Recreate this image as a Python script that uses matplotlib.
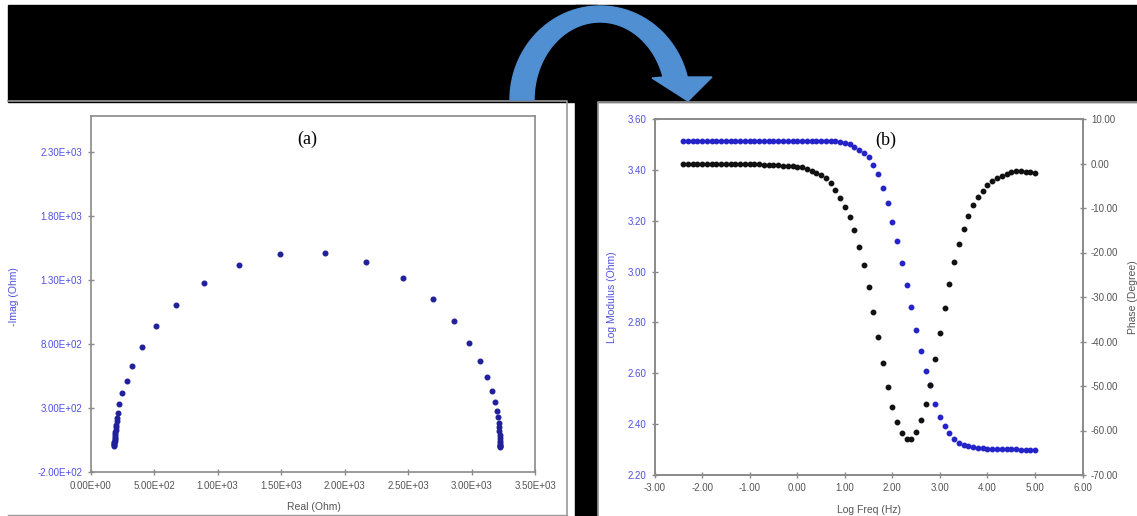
import numpy as np
from matplotlib import pyplot as plt
from matplotlib.patches import Rectangle, Polygon

plt.rcParams['font.family'] = ['Liberation Sans', 'DejaVu Sans']

# (a) Nyquist plot
z_real = [186, 187, 187, 188, 188, 189, 189, 190, 191, 192, 194, 196, 199, 203, 207, 211,
          218, 226, 250, 283, 329, 408, 515, 676, 891, 1168, 1491, 1843,
          2167, 2461, 2694, 2863, 2982, 3066, 3122, 3159, 3180, 3197, 3206, 3212, 3215,
          3218, 3220, 3221, 3222, 3223, 3224, 3224, 3225, 3225]
z_imag = [5, 12, 20, 28, 37, 46, 56, 67, 80, 95, 112, 130, 150, 172, 196, 222,
          264, 332, 415, 513, 632, 778, 938, 1107, 1275, 1413, 1501, 1506,
          1441, 1312, 1151, 982, 811, 666, 542, 433, 350, 280, 228, 186, 150,
          119, 90, 64, 44, 26, 14, 8, 4, 1]
a_xticks = [0, 500, 1000, 1500, 2000, 2500, 3000, 3500]
a_xlabels = ['0.00E+00', '5.00E+02', '1.00E+03', '1.50E+03', '2.00E+03', '2.50E+03', '3.00E+03', '3.50E+03']
a_yticks = [-200, 300, 800, 1300, 1800, 2300]
a_ylabels = ['-2.00E+02', '3.00E+02', '8.00E+02', '1.30E+03', '1.80E+03', '2.30E+03']

# (b) Bode plot
log_freq = [-2.4, -2.3, -2.2, -2.1, -2.0, -1.9, -1.8, -1.7, -1.6, -1.5,
            -1.4, -1.3, -1.2, -1.1, -1.0, -0.9, -0.8, -0.7, -0.6, -0.5,
            -0.4, -0.3, -0.2, -0.1, 0.0, 0.1, 0.2, 0.3, 0.4, 0.5,
            0.6, 0.7, 0.8, 0.9, 1.0, 1.1, 1.2, 1.3, 1.4, 1.5,
            1.6, 1.7, 1.8, 1.9, 2.0, 2.1, 2.2, 2.3, 2.4, 2.5,
            2.6, 2.7, 2.8, 2.9, 3.0, 3.1, 3.2, 3.3, 3.4, 3.5,
            3.6, 3.7, 3.8, 3.9, 4.0, 4.1, 4.2, 4.3, 4.4, 4.5,
            4.6, 4.7, 4.8, 4.9, 5.0]
log_modulus = [3.512] * 33 + [
    3.510, 3.506, 3.500, 3.491, 3.480, 3.468, 3.450,
    3.420, 3.382, 3.329, 3.270, 3.196, 3.119, 3.035, 2.947, 2.859, 2.771,
    2.686, 2.609, 2.555, 2.479, 2.429, 2.392, 2.364, 2.343, 2.327, 2.318,
    2.313, 2.309, 2.307, 2.305, 2.304, 2.303, 2.303, 2.302, 2.302, 2.301,
    2.301, 2.300, 2.300, 2.299, 2.298]
phase = [0.0, 0.0, 0.0, 0.0, 0.0, 0.0, 0.0, 0.0, 0.0, 0.0,
         -0.05, -0.05, -0.1, -0.1, -0.15, -0.2, -0.2, -0.25, -0.3, -0.35,
         -0.4, -0.45, -0.5, -0.6, -0.7, -0.85, -1.2, -1.6, -2.1, -2.6,
         -3.3, -4.45, -6.0, -7.7, -9.8, -12.1, -14.9, -18.7, -22.8, -27.7,
         -33.4, -39.1, -44.8, -50.2, -54.7, -58.2, -60.6, -61.8, -61.8, -60.3,
         -57.6, -54.0, -49.8, -43.9, -38.2, -32.5, -27.1, -22.2, -18.2, -14.7,
         -11.8, -9.4, -7.5, -6.1, -4.8, -3.9, -3.3, -2.7, -2.3, -1.9,
         -1.75, -1.75, -1.8, -2.0, -2.2]
b_xticks = [-3, -2, -1, 0, 1, 2, 3, 4, 5, 6]
b_xlabels = ['-3.00', '-2.00', '-1.00', '0.00', '1.00', '2.00', '3.00', '4.00', '5.00', '6.00']
b_yticks = [2.2, 2.4, 2.6, 2.8, 3.0, 3.2, 3.4, 3.6]
b_ylabels = ['2.20', '2.40', '2.60', '2.80', '3.00', '3.20', '3.40', '3.60']
b_y2ticks = [-70, -60, -50, -40, -30, -20, -10, 0, 10]
b_y2labels = ['-70.00', '-60.00', '-50.00', '-40.00', '-30.00', '-20.00', '-10.00', '0.00', '10.00']

W, H = 1137, 516
blue_txt = '#5050e0'
gray_txt = '#555555'
spine_col = '#8a8a8a'
fs = 7

fig = plt.figure(figsize=(W / 100, H / 100), dpi=100)

# background: black band, white panels, curved arrow (pixel coords)
bg = fig.add_axes([0, 0, 1, 1])
bg.set_xlim(0, W)
bg.set_ylim(H, 0)
bg.axis('off')
bg.add_patch(Rectangle((8, 5), W - 8, 97, color='black'))
bg.add_patch(Rectangle((575, 5), 22, H, color='black'))
bg.plot([8, 567, 567], [101, 101, 515], color='#9a9a9a', lw=1.2)
bg.plot([8, 567], [515, 515], color='#9a9a9a', lw=1.0)
bg.plot([598, 598, W], [H, 102, 102], color='#9a9a9a', lw=1.2)

cx, cy = 600, 100
t_out = np.radians(np.linspace(180, 15, 60))
t_in = np.radians(np.linspace(17, 180, 60))
outer = np.c_[cx + 90 * np.cos(t_out), cy - 94 * np.sin(t_out)]
inner = np.c_[cx + 66 * np.cos(t_in), cy - 78 * np.sin(t_in)]
head = np.array([[712, 77], [688, 101], [652, 78]])
arrow = np.vstack([outer, [[687, 77]], head, [[664, 77]], inner])
bg.add_patch(Polygon(arrow, closed=True, color='#4f8fd2', zorder=3))


def style_axes(ax):
    for s in ax.spines.values():
        s.set_color(spine_col)
        s.set_linewidth(1.2)
    ax.tick_params(direction='inout', length=5, width=1, color=spine_col, labelsize=fs)


# (a)
ax1 = fig.add_axes([90.6 / W, (H - 472.3) / H, 444.7 / W, 356 / H])
ax1.plot(z_real, z_imag, 'o', color='#20209a', ms=3.3, mec='#20209a')
ax1.set_xlim(0, 3500)
ax1.set_ylim(-200, 2575)
ax1.set_xticks(a_xticks, a_xlabels)
ax1.set_yticks(a_yticks, a_ylabels)
style_axes(ax1)
ax1.tick_params(axis='x', labelcolor=gray_txt)
ax1.tick_params(axis='y', labelcolor=blue_txt)
ax1.set_xlabel('Real (Ohm)', fontsize=7.5, color=gray_txt)
ax1.set_ylabel('-Imag (Ohm)', fontsize=7.5, color=blue_txt)
ax1.xaxis.set_label_coords(0.502, -0.083)
ax1.yaxis.set_label_coords(-0.162, 0.493)
ax1.text(0.487, 0.936, '(a)', transform=ax1.transAxes, ha='center', va='center',
         fontsize=13, family='Liberation Serif')

# (b)
ax2 = fig.add_axes([654.6 / W, (H - 475) / H, 428 / W, 356 / H])
ax2.plot(log_freq, log_modulus, 'o', color='#2323c8', ms=3.2, mec='#2323c8', zorder=3)
ax2.set_xlim(-3, 6)
ax2.set_ylim(2.2, 3.6)
ax2.set_xticks(b_xticks, b_xlabels)
ax2.set_yticks(b_yticks, b_ylabels)
style_axes(ax2)
ax2.tick_params(axis='x', labelcolor=gray_txt)
ax2.tick_params(axis='y', labelcolor=blue_txt)
ax2.set_xlabel('Log Freq (Hz)', fontsize=7.5, color=gray_txt)
ax2.set_ylabel('Log Modulus (Ohm)', fontsize=7.5, color=blue_txt)
ax2.xaxis.set_label_coords(0.502, -0.084)
ax2.yaxis.set_label_coords(-0.087, 0.5)

ax3 = ax2.twinx()
ax3.plot(log_freq, phase, 'o', color='#111111', ms=3.2, mec='#111111')
ax3.set_ylim(-70, 10)
ax3.set_yticks(b_y2ticks, b_y2labels)
style_axes(ax3)
ax3.tick_params(axis='y', labelcolor=gray_txt)
ax3.set_ylabel('Phase (Degree)', fontsize=7.5, color=gray_txt)
ax3.yaxis.set_label_coords(1.106, 0.5)
ax3.text(0.54, 0.941, '(b)', transform=ax3.transAxes, ha='center', va='center',
         fontsize=13, family='Liberation Serif')

fig.savefig('out.png', dpi=100)
